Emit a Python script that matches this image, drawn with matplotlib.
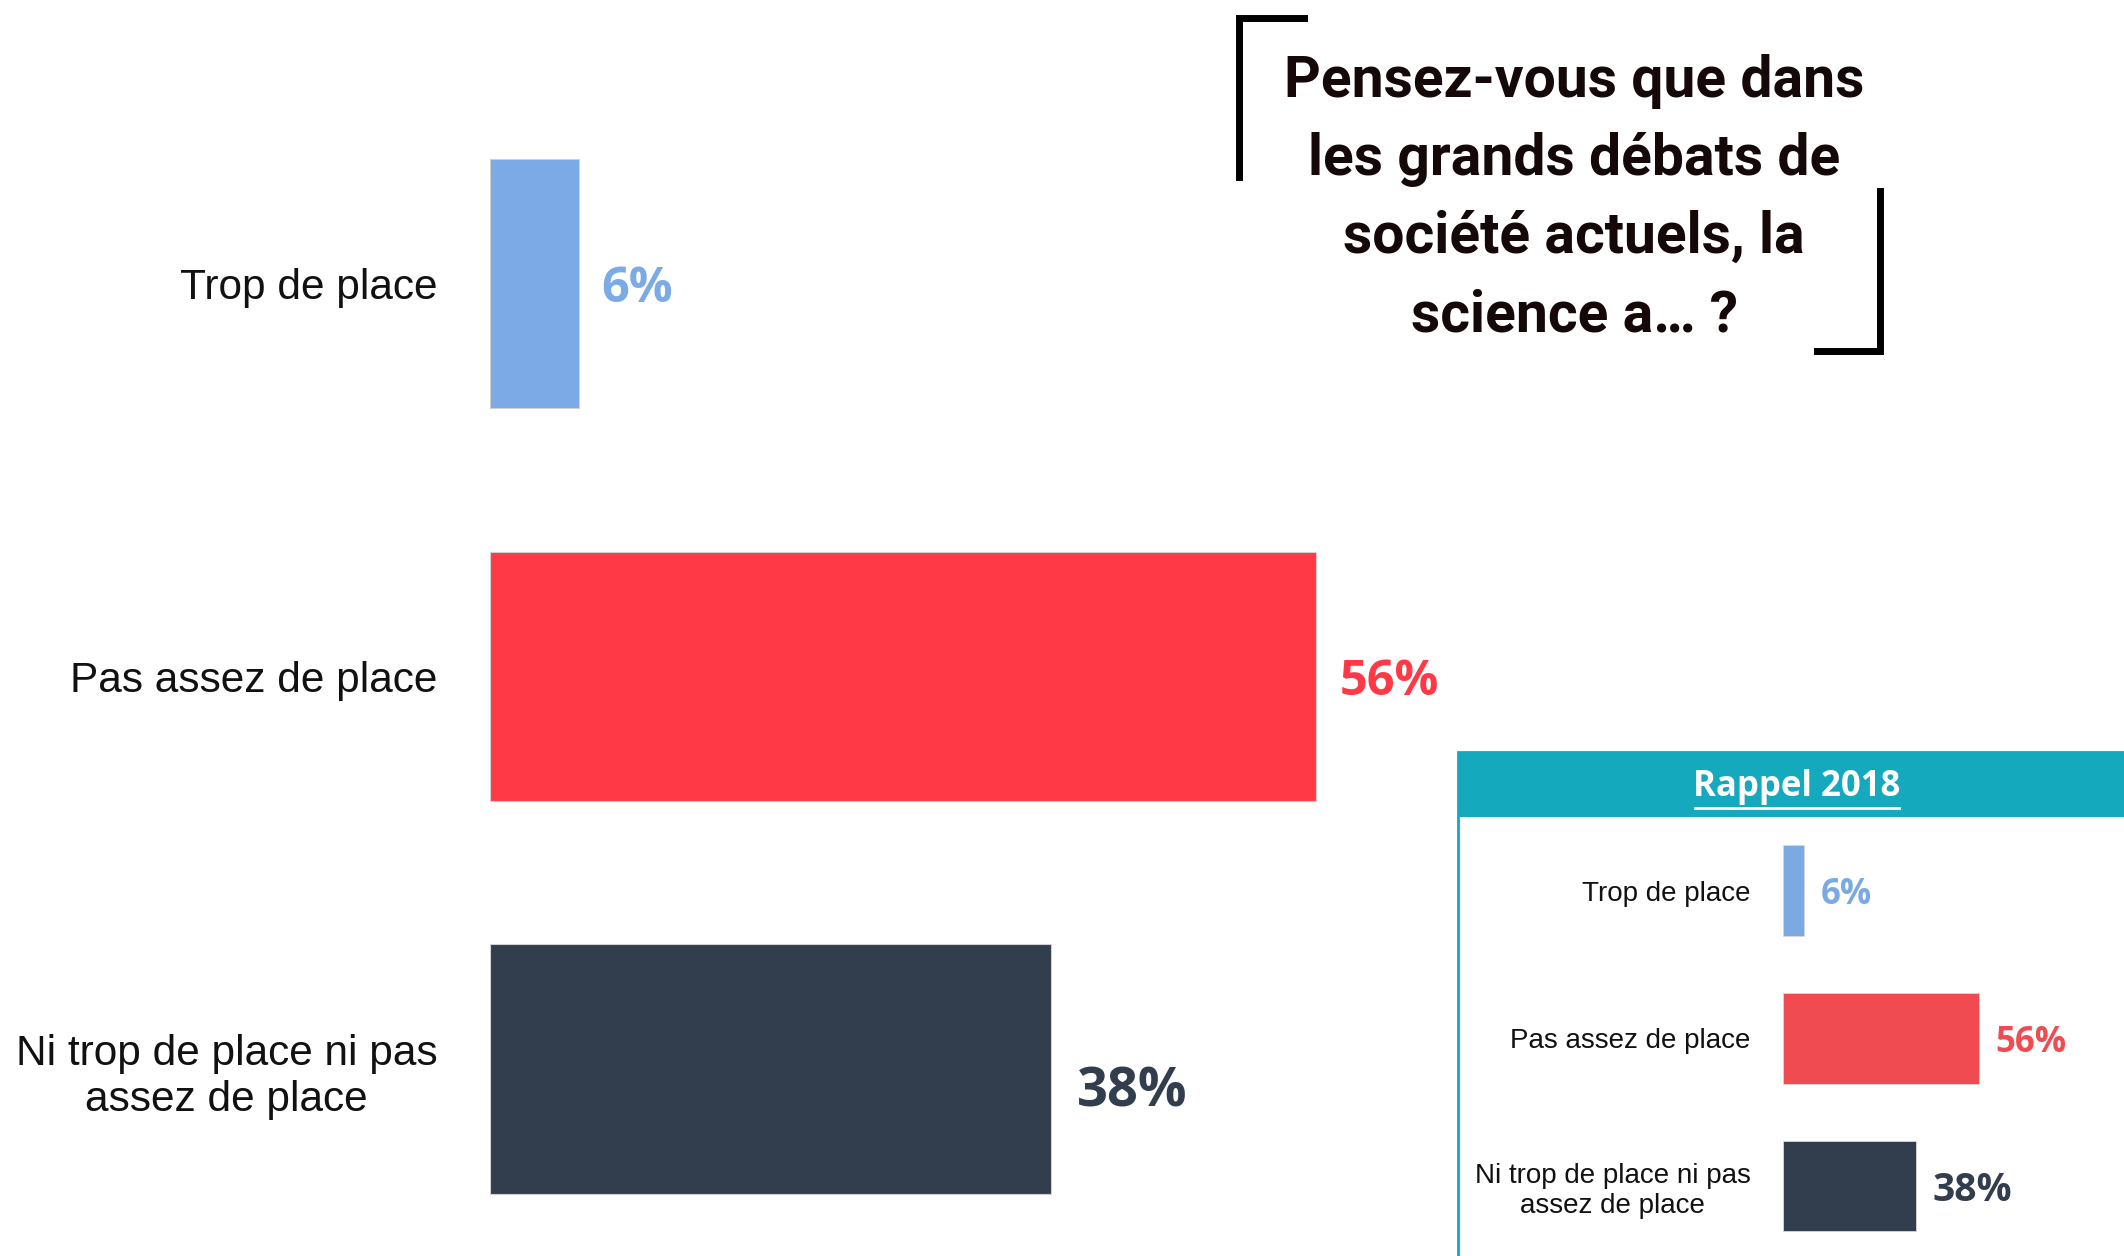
import matplotlib.pyplot as plt
from matplotlib.patches import Rectangle
from matplotlib.lines import Line2D

# survey data
categories = ["Trop de place", "Pas assez de place",
              "Ni trop de place ni pas\nassez de place"]
values_now = [6, 56, 38]
values_2018 = [6, 56, 38]

colors_now = ["#7BAAE6", "#FF3A46", "#323D4D"]
colors_2018 = ["#7BAAE2", "#EF4B50", "#323D4D"]

question = ["Pensez-vous que dans", "les grands débats de",
            "société actuels, la", "science a… ?"]
inset_title = "Rappel 2018"

TEAL = "#14A9BC"

# layout grid measured on the reference (1568 x 927 units)
W, H = 1568.0, 927.0


def fx(x):
    return x / W


def fy(y):
    return 1 - y / H


fig = plt.figure(figsize=(21.24, 12.56), dpi=100)

# ---- main chart
ax = fig.add_axes([fx(362), fy(905), 1089 / W, 870 / H])
ypos = range(len(categories))
ax.barh(ypos, values_now, height=0.634, color=colors_now,
        edgecolor="#d0d0d0", linewidth=0.8)
ax.set_xlim(0, 100)
ax.set_ylim(2.4, -0.6)
ax.set_yticks(list(ypos))
ax.set_yticklabels(categories, fontsize=30.5, family="Liberation Sans", color="#111111")
ax.tick_params(axis="y", length=0, pad=38)
ax.set_xticks([])
for lbl in ax.get_yticklabels():
    lbl.set_multialignment("center")
    lbl.set_linespacing(1.2)
for s in ax.spines.values():
    s.set_visible(False)
ax.patch.set_alpha(0)

# the 38% label is bigger and sits a little low in the original
label_dy = [0, 0, -12]
label_dx = [16, 17, 19]
label_size = [35, 35, 39]
for i, v in enumerate(values_now):
    ax.annotate(f"{v}%", (v, i), xytext=(label_dx[i], label_dy[i]), textcoords="offset points",
                va="center_baseline", ha="left", fontsize=label_size[i], fontweight="bold",
                family="Open Sans", color=colors_now[i])

# ---- question with brackets
for k, line in enumerate(question):
    fig.text(fx(1162), fy(60 + k * 57.7), line, ha="center", va="center",
             fontsize=41, fontweight="bold", family="Roboto", color="#140808")

lw = 5
fig.add_artist(Line2D([fx(915), fx(915), fx(963)], [fy(131), fy(13), fy(13)],
                      color="black", lw=lw, solid_joinstyle="miter"))
fig.add_artist(Line2D([fx(1341), fx(1388), fx(1388)], [fy(259), fy(259), fy(141)],
                      color="black", lw=lw, solid_joinstyle="miter"))

# ---- rappel 2018 inset
box = Rectangle((fx(1076), fy(935)), 1.0, fy(555) - fy(935), transform=fig.transFigure,
                facecolor="white", edgecolor=TEAL, lw=2, zorder=1)
fig.add_artist(box)
header = Rectangle((fx(1076), fy(603)), 1.0, fy(555) - fy(603), transform=fig.transFigure,
                   facecolor=TEAL, edgecolor="none", zorder=2)
fig.add_artist(header)
fig.text(fx(1326), fy(581), inset_title, ha="center", va="center", fontsize=25,
         fontweight="bold", family="Open Sans", color="white", zorder=3)
fig.add_artist(Line2D([fx(1251), fx(1402)], [fy(596), fy(596)], color="white", lw=2, zorder=3))

axi = fig.add_axes([fx(1316), fy(919), 259 / W, 327 / H])
axi.set_zorder(3)
axi.barh(ypos, values_2018, height=0.615, color=colors_2018,
         edgecolor="#d8d8d8", linewidth=0.6)
axi.set_xlim(0, 100)
axi.set_ylim(2.4, -0.6)
axi.set_yticks(list(ypos))
axi.set_yticklabels(categories, fontsize=20, family="Liberation Sans", color="#111111")
axi.tick_params(axis="y", length=0, pad=23)
axi.set_xticks([])
for lbl in axi.get_yticklabels():
    lbl.set_multialignment("center")
    lbl.set_linespacing(1.2)
for s in axi.spines.values():
    s.set_visible(False)
axi.patch.set_alpha(0)

inset_size = [25, 25, 28]
for i, v in enumerate(values_2018):
    axi.annotate(f"{v}%", (v, i), xytext=(12, 0), textcoords="offset points",
                 va="center_baseline", ha="left", fontsize=inset_size[i], fontweight="bold",
                 family="Open Sans", color=colors_2018[i])

fig.savefig("out.png", dpi=100, facecolor="white")
